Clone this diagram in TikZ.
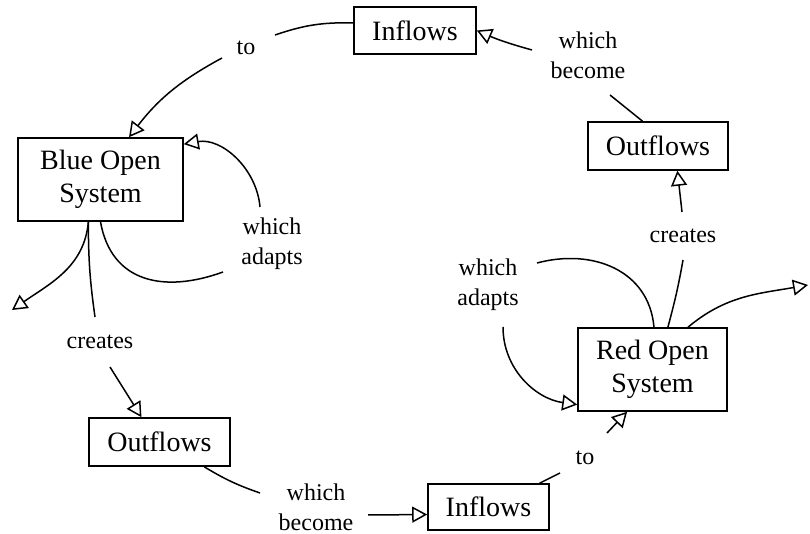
\documentclass[tikz,border=0pt]{standalone}
\usepackage{fontspec}
\setmainfont{Liberation Serif}
\usetikzlibrary{arrows.meta}

\begin{document}
\begin{tikzpicture}[
  x=1pt,y=1pt,
  sysbox/.style={draw,line width=1.6pt,font=\fontsize{28}{33}\selectfont,align=center,inner sep=0pt},
  lbl/.style={font=\fontsize{24}{30}\selectfont,align=center,inner sep=0pt},
  arr/.style={-{Triangle[open,length=15pt,width=16pt]},line width=1.5pt},
  seg/.style={line width=1.5pt},
]
\useasboundingbox (0,0) rectangle (810,534);

% Boxes
\node[sysbox,minimum width=122,minimum height=47] (inTop) at (415,503.5) {Inflows};
\node[sysbox,minimum width=165,minimum height=83] (blue) at (100.5,354.5) {Blue Open\\System};
\node[sysbox,minimum width=140,minimum height=48] (outR) at (658,388) {Outflows};
\node[sysbox,minimum width=149,minimum height=83] (red) at (652.5,164.5) {Red Open\\System};
\node[sysbox,minimum width=141,minimum height=48] (outBL) at (159.5,92) {Outflows};
\node[sysbox,minimum width=121,minimum height=46] (inBot) at (488.5,27) {Inflows};

% Labels
\node[lbl] (toA) at (246,486) {to};
\node[lbl] (becA) at (588,479) {which\\become};
\node[lbl] (adA) at (272,290) {which\\adapts};
\node[lbl] (crA) at (100,192) {creates};
\node[lbl] (crB) at (683,298) {creates};
\node[lbl] (adB) at (488,249) {which\\adapts};
\node[lbl] (toB) at (585,76) {to};
\node[lbl] (becB) at (316,27) {which\\become};

% Free ends
\coordinate (offL) at (12,224);
\coordinate (offR) at (808,249);

% Top inflows to blue system
\draw[seg] (inTop.173) to[bend right=10] ([shift={(29,13)}]toA.center);
\draw[arr] ([shift={(-24,-10)}]toA.center) to[bend right=12] (blue.56);

% Right outflows become top inflows
\draw[seg] (outR.122) -- ([shift={(22,-40)}]becA.center);
\draw[arr] ([shift={(-56,5)}]becA.center) to[bend left=4] (inTop.east);

% Blue system adapts
\draw[seg] (blue.south) to[out=-80,in=200,looseness=1.2] ([shift={(-49,-28)}]adA.center);
\draw[arr] ([shift={(-12,37)}]adA.center) to[out=95,in=10] (blue.23);

% Blue system creates outflows
\draw[arr] (blue.254) to[out=265,in=35] (offL);
\draw[seg] (blue.254) to[out=-90,in=98] ([shift={(-5,25)}]crA.center);
\draw[arr] ([shift={(10,-25)}]crA.center) -- (outBL.126);

% Bottom outflows become inflows
\draw[seg] (outBL.331) to[bend right=6] ([shift={(-56,14)}]becB.center);
\draw[arr] ([shift={(52,-8)}]becB.center) -- (inBot.187);

% Bottom inflows to red system
\draw[seg] (inBot.25) -- ([shift={(-25,-15)}]toB.center);
\draw[arr] ([shift={(22,25)}]toB.center) -- (red.239);

% Red system adapts
\draw[seg] (red.88) to[out=95,in=15,looseness=1.1] ([shift={(49,22)}]adB.center);
\draw[arr] ([shift={(15,-42)}]adB.center) to[out=-90,in=172] (red.205);

% Red system creates outflows
\draw[seg] (red.70) to[out=75,in=260] ([shift={(0,-24)}]crB.center);
\draw[arr] ([shift={(-1,24)}]crB.center) -- (outR.308);
\draw[arr] (red.50) to[out=40,in=190] (offR);

\end{tikzpicture}
\end{document}
